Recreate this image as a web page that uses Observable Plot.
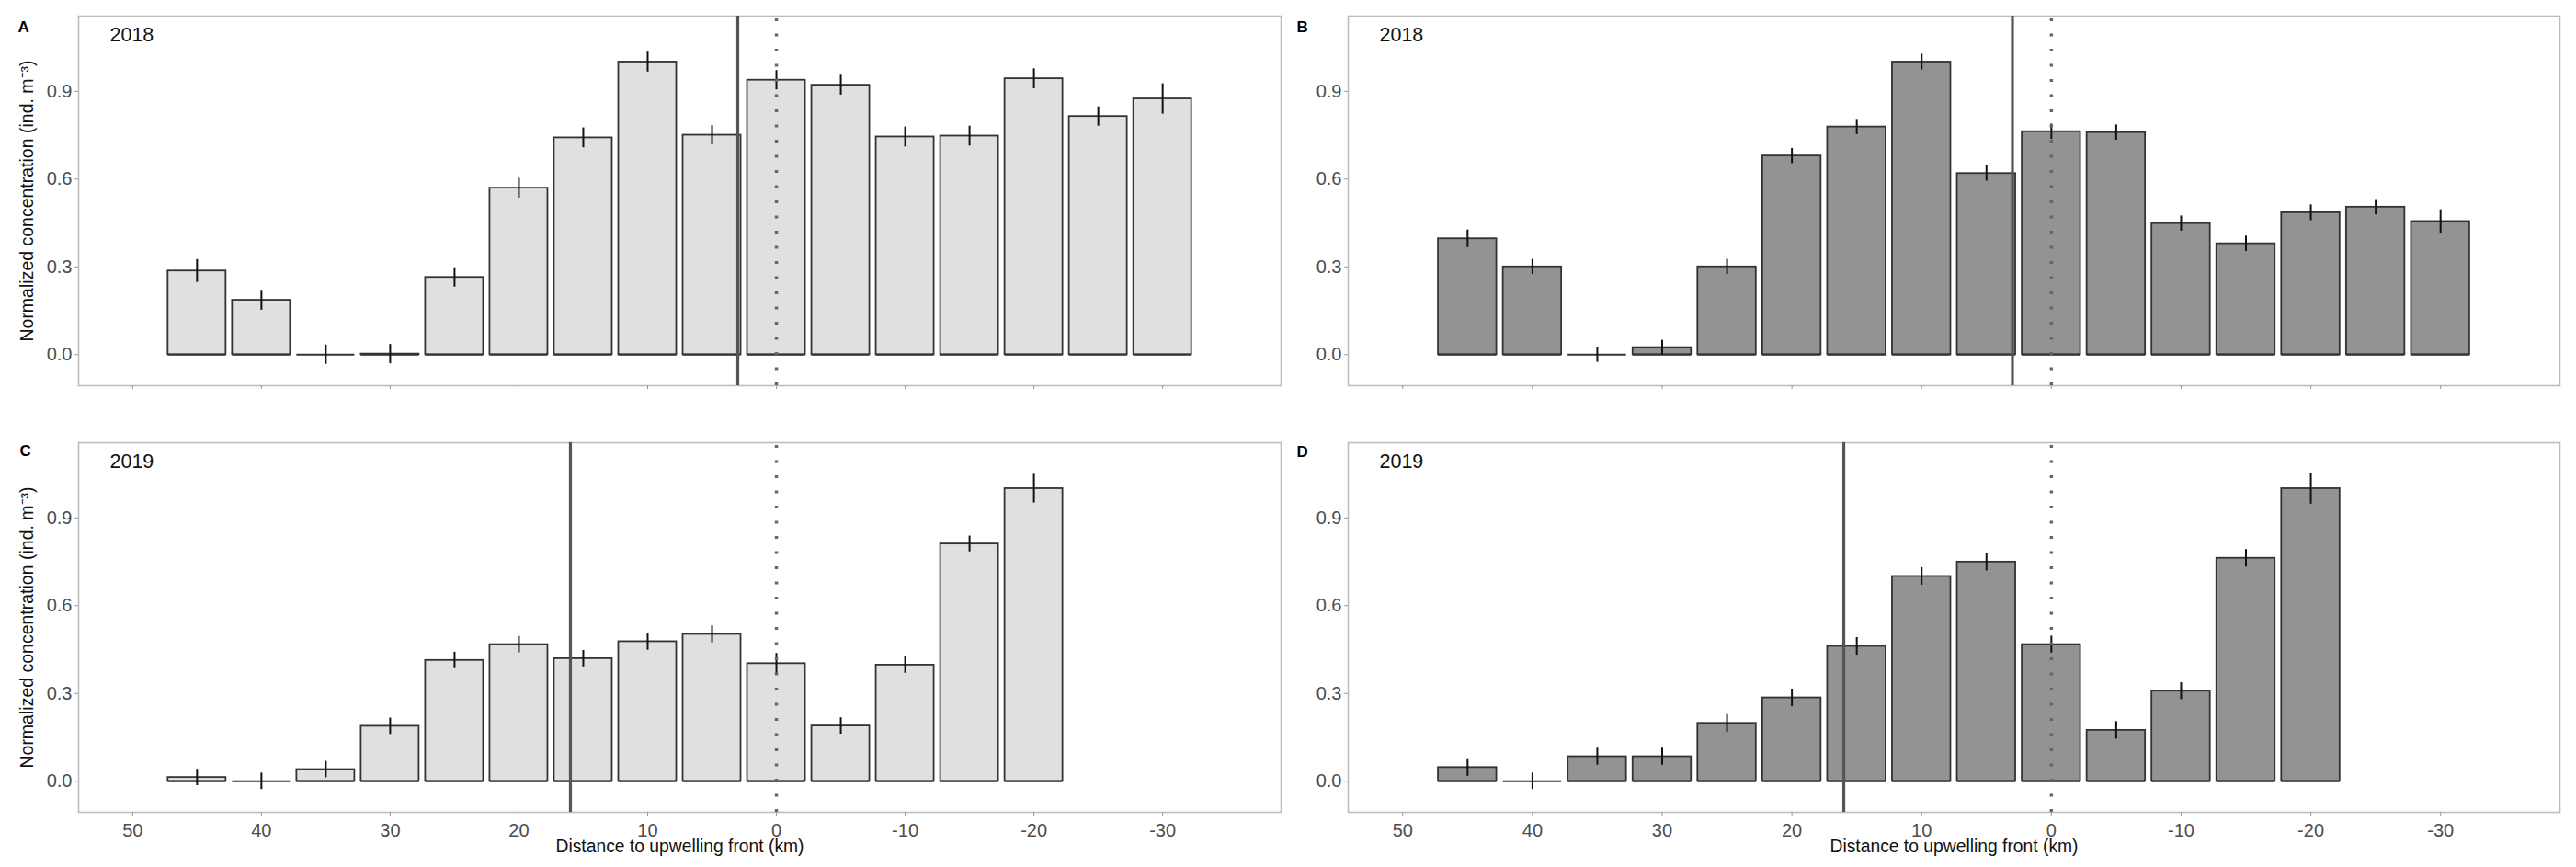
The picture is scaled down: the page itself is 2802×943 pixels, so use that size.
<!DOCTYPE html>
<html><head><meta charset="utf-8">
<script src="https://cdn.jsdelivr.net/npm/d3@7"></script>
<script src="https://cdn.jsdelivr.net/npm/@observablehq/plot@0.6"></script>
<style>
body{margin:0;background:#fff;}
#wrap{position:relative;width:2802px;height:943px;background:#fff;overflow:hidden;}
.p{position:absolute;}
</style></head><body><div id="wrap"></div>
<script>
// distances of bar centers (km)
const dist2018 = [45,40,35,30,25,20,15,10,5,0,-5,-10,-15,-20,-25,-30];
const dist2019 = [45,40,35,30,25,20,15,10,5,0,-5,-10,-15,-20];
// panel A (2018, light)
const valA = [0.286,0.186,0.0,0.002,0.264,0.569,0.741,1.0,0.75,0.938,0.921,0.744,0.747,0.943,0.814,0.874];
const errA = [0.039,0.034,0.033,0.033,0.033,0.034,0.034,0.034,0.033,0.033,0.034,0.034,0.034,0.034,0.033,0.052];
// panel B (2018, dark)
const valB = [0.396,0.300,0.0,0.024,0.300,0.679,0.778,1.0,0.619,0.762,0.759,0.448,0.379,0.485,0.504,0.455];
const errB = [0.030,0.026,0.026,0.025,0.026,0.026,0.026,0.027,0.026,0.026,0.026,0.026,0.026,0.027,0.026,0.040];
// panel C (2019, light)
const valC = [0.013,0.0,0.040,0.188,0.413,0.467,0.419,0.477,0.502,0.402,0.189,0.397,0.811,1.0];
const errC = [0.028,0.028,0.028,0.028,0.028,0.028,0.028,0.029,0.029,0.035,0.028,0.028,0.027,0.049];
// panel D (2019, dark)
const valD = [0.047,0.0,0.084,0.084,0.198,0.285,0.461,0.700,0.749,0.467,0.174,0.308,0.762,1.0];
const errD = [0.030,0.028,0.029,0.029,0.030,0.030,0.030,0.030,0.030,0.029,0.030,0.029,0.030,0.053];
// vertical reference lines
const frontLine2018 = 3;
const frontLine2019 = 16;
const zeroLine = 0;
// ticks and labels
const xTicks = [50,40,30,20,10,0,-10,-20,-30];
const yTicks = [0,0.3,0.6,0.9];
const xTitle = "Distance to upwelling front (km)";
const yTitle = "Normalized concentration (ind. m\u207B\u00B3)";
const barWidth = 4.5;

const FONT = "'Liberation Sans', Arial, Helvetica, sans-serif";

function panel({letter, year, dist, vals, errs, line, fill, left, top, width, height, mt, mb, ml, mr, showX, showYTitle, letterDx, letterDy}) {
  const data = dist.map((d, i) => ({x: d, v: vals[i], e: errs[i]}));
  const marks = [
    Plot.frame({stroke: "#bdbdbd", strokeWidth: 1.6}),
    Plot.ruleY(data, {x1: d => d.x + barWidth / 2, x2: d => d.x - barWidth / 2, y: 0, stroke: "#333", strokeWidth: 1.8}),
    Plot.rect(data, {x1: d => d.x + barWidth / 2, x2: d => d.x - barWidth / 2, y1: 0, y2: "v", fill, stroke: "#333", strokeWidth: 1.8}),
    Plot.ruleX(data, {x: "x", y1: d => d.v - d.e, y2: d => d.v + d.e, stroke: "#111", strokeWidth: 2}),
    Plot.ruleX([line], {stroke: "#555", strokeWidth: 3.2}),
    Plot.ruleX([zeroLine], {stroke: "#666", strokeWidth: 3.5, strokeDasharray: "3,13.5", strokeDashoffset: 13.6}),
    Plot.axisX({ticks: xTicks, tickSize: 4, tickPadding: 8, tickFormat: showX ? (d => String(d)) : (() => ""), stroke: "#999", fill: "#4d4d4d", fontSize: 20, label: null}),
    Plot.axisY({ticks: yTicks, tickSize: 4, tickPadding: 3, tickFormat: d => d.toFixed(1), stroke: "#999", fill: "#4d4d4d", fontSize: 20, label: null}),
    Plot.text([year], {frameAnchor: "top-left", dx: 34, dy: 12, textAnchor: "start", lineAnchor: "top", fontSize: 21.5, fill: "#111"}),
    Plot.text([letter], {frameAnchor: "top-left", dx: letterDx, dy: letterDy, textAnchor: "start", lineAnchor: "top", fontSize: 17, fontWeight: "bold", fill: "#000"})
  ];
  if (showX) marks.push(Plot.text([xTitle], {frameAnchor: "bottom", dy: 30, lineAnchor: "top", textAnchor: "middle", fontSize: 19.3, fill: "#111"}));
  if (showYTitle) marks.push(Plot.text([yTitle], {frameAnchor: "left", dx: -63, rotate: -90, textAnchor: "middle", lineAnchor: "top", fontSize: 19.5, fill: "#111"}));
  const chart = Plot.plot({
    width, height, marginTop: mt, marginBottom: mb, marginLeft: ml, marginRight: mr,
    x: {domain: [54.2, -39.2], axis: null},
    y: {domain: [-0.106, 1.157], axis: null},
    style: {fontFamily: FONT, background: "transparent", overflow: "visible"},
    marks
  });
  chart.classList.add("p");
  chart.style.left = left + "px";
  chart.style.top = top + "px";
  document.getElementById("wrap").appendChild(chart);
}

panel({letter: "A", year: "2018", dist: dist2018, vals: valA, errs: errA, line: frontLine2018, fill: "#e0e0e0",
  left: 0, top: 0, width: 1400, height: 470, mt: 17, mb: 51, ml: 85, mr: 7, showX: false, showYTitle: true, letterDx: -66, letterDy: 5});
panel({letter: "B", year: "2018", dist: dist2018, vals: valB, errs: errB, line: frontLine2018, fill: "#939393",
  left: 1400, top: 0, width: 1402, height: 470, mt: 17, mb: 51, ml: 66, mr: 18, showX: false, showYTitle: false, letterDx: -56, letterDy: 5});
panel({letter: "C", year: "2019", dist: dist2019, vals: valC, errs: errC, line: frontLine2019, fill: "#e0e0e0",
  left: 0, top: 470, width: 1400, height: 473, mt: 11, mb: 60, ml: 85, mr: 7, showX: true, showYTitle: true, letterDx: -64, letterDy: 2});
panel({letter: "D", year: "2019", dist: dist2019, vals: valD, errs: errD, line: frontLine2019, fill: "#939393",
  left: 1400, top: 470, width: 1402, height: 473, mt: 11, mb: 60, ml: 66, mr: 18, showX: true, showYTitle: false, letterDx: -56, letterDy: 3});
</script>
</body></html>
